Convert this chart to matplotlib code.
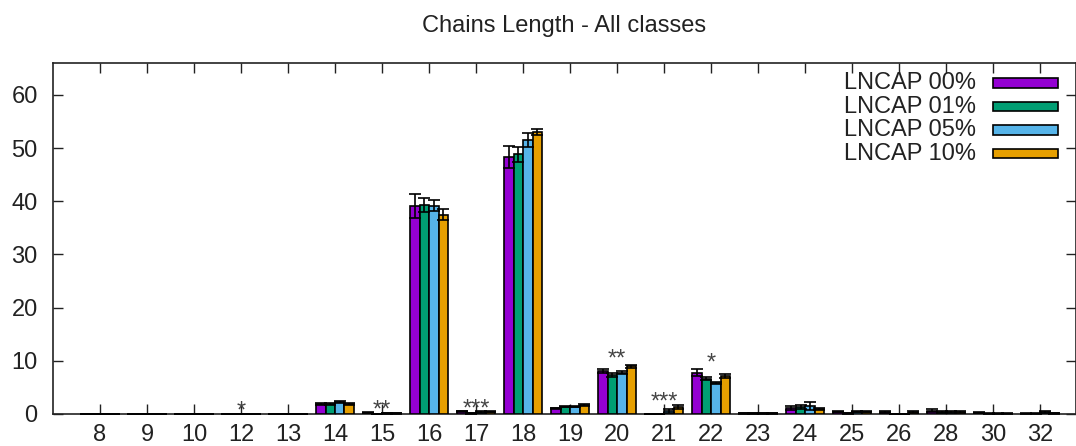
import matplotlib
matplotlib.use("Agg")
import matplotlib.pyplot as plt
from matplotlib.patches import Rectangle
import numpy as np

plt.rcParams['font.family'] = ['Liberation Sans', 'DejaVu Sans']

# Chain lengths on the x axis
categories = ['8', '9', '10', '12', '13', '14', '15', '16', '17', '18', '19',
              '20', '21', '22', '23', '24', '25', '26', '28', '30', '32']

series_labels = ['LNCAP 00%', 'LNCAP 01%', 'LNCAP 05%', 'LNCAP 10%']
series_colors = ['#9400D3', '#009E73', '#56B4E9', '#E69F00']

# Mean percentages per chain length
lncap00 = [0, 0, 0, 0, 0, 1.9, 0.2, 39.1, 0.5, 48.3, 1.05, 8.15, 0, 7.8, 0.1, 1.1, 0.4, 0.3, 0.6, 0.2, 0.05]
lncap01 = [0, 0, 0, 0, 0, 1.9, 0.0, 39.3, 0.1, 48.8, 1.4, 7.35, 0, 6.65, 0.1, 1.35, 0.1, 0, 0.4, 0.05, 0.05]
lncap05 = [0, 0, 0, 0, 0, 2.25, 0.1, 39.2, 0.4, 51.5, 1.4, 7.8, 0.5, 5.85, 0.1, 1.5, 0.4, 0, 0.35, 0.05, 0.3]
lncap10 = [0, 0, 0, 0, 0, 1.9, 0.1, 37.5, 0.4, 53.0, 1.7, 8.95, 1.3, 7.15, 0.1, 0.95, 0.4, 0.3, 0.4, 0.05, 0.1]

# Standard deviations
err00 = [0, 0, 0, 0, 0, 0.15, 0.1, 2.2, 0.15, 2.0, 0.1, 0.35, 0, 0.7, 0.05, 0.35, 0.1, 0.2, 0.25, 0.1, 0.05]
err01 = [0, 0, 0, 0, 0, 0.15, 0.0, 1.4, 0.05, 1.4, 0.15, 0.3, 0, 0.35, 0.05, 0.4, 0.05, 0, 0.2, 0.05, 0.05]
err05 = [0, 0, 0, 0, 0, 0.2, 0.05, 1.1, 0.15, 1.3, 0.15, 0.3, 0.4, 0.25, 0.05, 0.7, 0.1, 0, 0.15, 0.05, 0.2]
err10 = [0, 0, 0, 0, 0, 0.15, 0.05, 1.0, 0.1, 0.6, 0.2, 0.35, 0.35, 0.35, 0.05, 0.2, 0.1, 0.2, 0.2, 0.05, 0.1]

# Significance marks above selected chain lengths
sig_categories = ['12', '15', '17', '20', '21', '22']
sig_marks = ['*', '**', '***', '**', '***', '*']
sig_heights = [2.1, 2.25, 2.5, 11.9, 3.8, 11.1]

values = [lncap00, lncap01, lncap05, lncap10]
errors = [err00, err01, err05, err10]

ink = '#222222'
fig = plt.figure(figsize=(10.76, 4.46), dpi=100)
ax = fig.add_axes([53 / 1076, 32 / 446, 1023 / 1076, 351 / 446])

x = np.arange(len(categories))
width = 0.2
offsets = [-0.3, -0.1, 0.1, 0.3]
for vals, errs, col, off in zip(values, errors, series_colors, offsets):
    ax.bar(x + off, vals, width, color=col, edgecolor='black', linewidth=1.2, zorder=2)
    ax.errorbar(x + off, vals, yerr=errs, fmt='none', ecolor='black',
                elinewidth=1.2, capsize=4, capthick=1.2, zorder=3)

for cat, mark, h in zip(sig_categories, sig_marks, sig_heights):
    ax.annotate(mark, (categories.index(cat), h), xytext=(0, -6),
                textcoords='offset points', ha='center', va='center',
                fontsize=17, color='#444444', zorder=4)

ax.set_xlim(-1.0, 20.76)
ax.set_ylim(0, 66)
ax.set_xticks(x)
ax.set_xticklabels(categories)
ax.set_yticks(np.arange(0, 61, 10))
ax.tick_params(axis='both', direction='in', length=7, width=1.0, color=ink,
               labelsize=17, labelcolor=ink, top=True, right=True)
ax.tick_params(axis='y', pad=11)
ax.tick_params(axis='x', pad=7)
for s in ax.spines.values():
    s.set_color(ink)
    s.set_linewidth(1.2)
    s.set_zorder(1)

ax.set_title('Chains Length - All classes', fontsize=17, color=ink, pad=22)

# Key in the upper right corner
row_y = [0.943, 0.876, 0.809, 0.742]
for lab, col, yy in zip(series_labels, series_colors, row_y):
    ax.text(0.902, yy, lab, transform=ax.transAxes, ha='right', va='center',
            fontsize=17, color=ink, zorder=5)
    ax.add_patch(Rectangle((0.919, yy - 0.0135), 0.063, 0.027, transform=ax.transAxes,
                           facecolor=col, edgecolor='black', linewidth=1.2, zorder=5))

fig.savefig('out.png', dpi=100)
